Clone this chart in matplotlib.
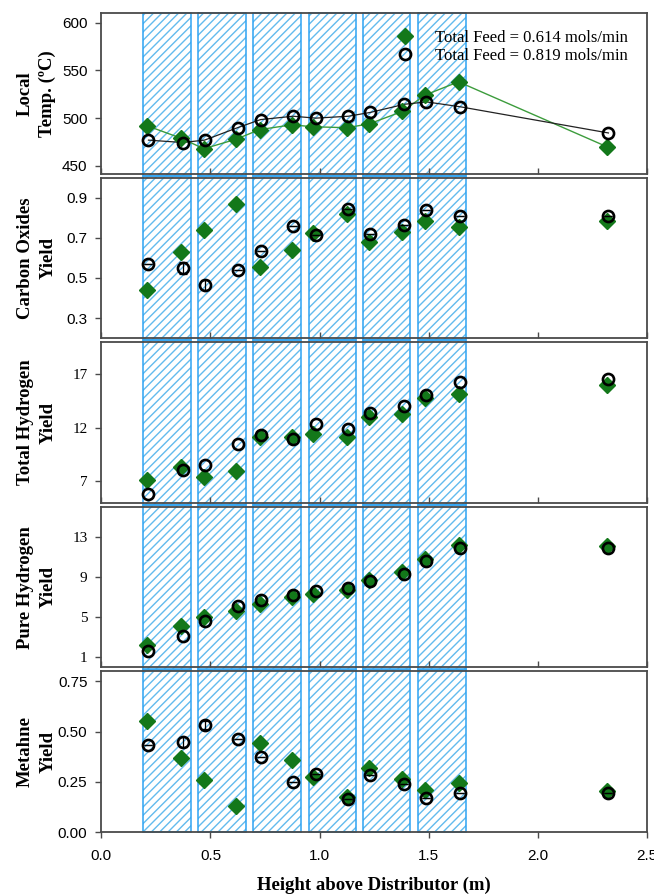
import matplotlib
matplotlib.use("Agg")
import matplotlib.pyplot as plt
import numpy as np

# ---------------- data ----------------
x_a = [0.21, 0.365, 0.47, 0.618, 0.725, 0.873, 0.97, 1.126, 1.227, 1.38, 1.482, 1.637, 2.318]
x_b = [0.216, 0.373, 0.473, 0.624, 0.73, 0.879, 0.983, 1.132, 1.233, 1.389, 1.49, 1.642, 2.324]

temp_a = [492, 479, 468, 478, 488, 493, 491, 490, 494, 507, 524, 538, 470]
temp_b = [477, 474.5, 477, 490, 498.5, 502, 500, 502, 506, 514.5, 517, 512, 484.5]

co_a = [0.442, 0.627, 0.74, 0.87, 0.553, 0.639, 0.726, 0.819, 0.677, 0.731, 0.786, 0.755, 0.784]
co_b = [0.568, 0.548, 0.467, 0.541, 0.632, 0.758, 0.715, 0.844, 0.718, 0.764, 0.837, 0.811, 0.811]
co_b_err = [0, 0.03, 0.025, 0, 0, 0, 0, 0, 0, 0, 0, 0, 0]

th_a = [7.1, 8.35, 7.4, 7.95, 11.15, 11.15, 11.4, 11.1, 13.05, 13.3, 14.75, 15.2, 16.05]
th_b = [5.85, 8.1, 8.55, 10.5, 11.3, 10.95, 12.35, 11.9, 13.4, 14.0, 15.1, 16.25, 16.55]

ph_a = [2.2, 4.15, 5.05, 5.6, 6.35, 7.0, 7.35, 7.75, 8.7, 9.55, 10.8, 12.2, 12.1]
ph_b = [1.65, 3.15, 4.65, 6.15, 6.7, 7.2, 7.6, 7.95, 8.65, 9.3, 10.65, 11.9, 11.9]

ch4_a = [0.555, 0.37, 0.26, 0.13, 0.445, 0.36, 0.275, 0.175, 0.32, 0.265, 0.21, 0.245, 0.205]
ch4_b = [0.435, 0.45, 0.535, 0.465, 0.375, 0.25, 0.29, 0.165, 0.285, 0.24, 0.17, 0.195, 0.195]
ch4_b_err = [0, 0.025, 0.02, 0, 0, 0, 0, 0, 0, 0, 0, 0, 0]

band_start = [0.193, 0.442, 0.697, 0.951, 1.200, 1.453]
band_end = [0.410, 0.661, 0.914, 1.165, 1.416, 1.669]

label_a = "Total Feed = 0.614 mols/min"
label_b = "Total Feed = 0.819 mols/min"

ylabels = ["Local\nTemp. (\u00baC)", "Carbon Oxides\nYield", "Total Hydrogen\nYield",
           "Pure Hydrogen\nYield", "Metahne\nYield"]
ylims = [(442, 610), (0.2, 1.0), (5, 20), (0, 16), (0, 0.8)]
yticks = [[450, 500, 550, 600], [0.3, 0.5, 0.7, 0.9], [7, 12, 17], [1, 5, 9, 13],
          [0.0, 0.25, 0.5, 0.75]]
yfmt = ["{:.0f}", "{:.1f}", "{:.0f}", "{:.0f}", "{:.2f}"]
xticks = [0.0, 0.5, 1.0, 1.5, 2.0, 2.5]

series_a = [temp_a, co_a, th_a, ph_a, ch4_a]
series_b = [temp_b, co_b, th_b, ph_b, ch4_b]
errs_b = [None, co_b_err, None, None, ch4_b_err]

# ---------------- style ----------------
GREEN = "#13781a"
GREEN_LINE = "#3c9c3c"
BAND_EDGE = "#2ea3f2"
HATCH_C = "#62bbee"
SPINE = "#4a4a4a"
sans = ["Liberation Sans", "DejaVu Sans"]
serif = ["Liberation Serif", "DejaVu Serif"]

fig = plt.figure(figsize=(6.54, 8.96), dpi=100)
gs = fig.add_gridspec(5, 1, left=0.155, right=0.989, top=0.9855, bottom=0.0714,
                      hspace=0.025)
axes = [fig.add_subplot(gs[i, 0]) for i in range(5)]

for i, ax in enumerate(axes):
    ax.set_xlim(0, 2.5)
    ax.set_ylim(*ylims[i])
    lo = 0.0 if i == 4 else -0.013
    hi = 1.0 if i == 0 else 1.013
    for s, e in zip(band_start, band_end):
        r1 = ax.axvspan(s, e, ymin=lo, ymax=hi, facecolor="none", edgecolor=HATCH_C,
                        hatch="////", linewidth=0, zorder=1)
        r1.set_clip_on(False)
        r2 = ax.axvspan(s, e, ymin=lo, ymax=hi, facecolor="none", edgecolor=BAND_EDGE,
                        linewidth=1.1, zorder=1.1)
        r2.set_clip_on(False)

    if i == 0:
        ax.plot(x_a, series_a[i], color=GREEN_LINE, lw=1.0, zorder=2)
        ax.plot(x_b, series_b[i], color="#222222", lw=0.9, zorder=2)
    ax.plot(x_a, series_a[i], linestyle="none", marker="D", ms=8, color=GREEN,
            markeredgecolor=GREEN, zorder=3, label=label_a)
    if errs_b[i] is not None:
        ax.errorbar(x_b, series_b[i], yerr=errs_b[i], fmt="none", ecolor="black",
                    elinewidth=0.9, capsize=3, capthick=0.9, zorder=3.5)
    ax.plot(x_b, series_b[i], linestyle="none", marker="o", ms=8, mfc="none",
            mec="black", mew=1.9, zorder=4, label=label_b)

    ax.set_yticks(yticks[i])
    ax.set_yticklabels([yfmt[i].format(v) for v in yticks[i]],
                       family=serif if i in (2, 3) else sans, fontsize=11)
    ax.set_xticks(xticks)
    ax.tick_params(axis="y", direction="out", length=4.5, width=1, color=SPINE, pad=5.5)
    if i < 4:
        ax.tick_params(axis="x", direction="in", length=4, width=1, color=SPINE,
                       labelbottom=False)
    else:
        ax.tick_params(axis="x", direction="out", length=4, width=1, color=SPINE, pad=8)
        ax.set_xticklabels(["{:.1f}".format(v) for v in xticks], family=sans,
                           fontsize=11)
    for sp in ax.spines.values():
        sp.set_color(SPINE)
        sp.set_linewidth(1.3)
    ax.set_ylabel(ylabels[i], family=serif, fontweight="bold", fontsize=13.5,
                  linespacing=1.42)
    ax.yaxis.set_label_coords(-0.0825, 0.5)

leg = axes[0].legend(loc="upper right", bbox_to_anchor=(0.965, 0.895), frameon=False,
                     prop={"family": serif, "size": 12}, handletextpad=1.3,
                     labelspacing=0.1, borderaxespad=0.0, borderpad=0.0,
                     handlelength=1.0)

axes[4].set_xlabel("Height above Distributor (m)", family=serif, fontweight="bold",
                   fontsize=13.5, labelpad=10)

fig.savefig("out.png", dpi=100)
